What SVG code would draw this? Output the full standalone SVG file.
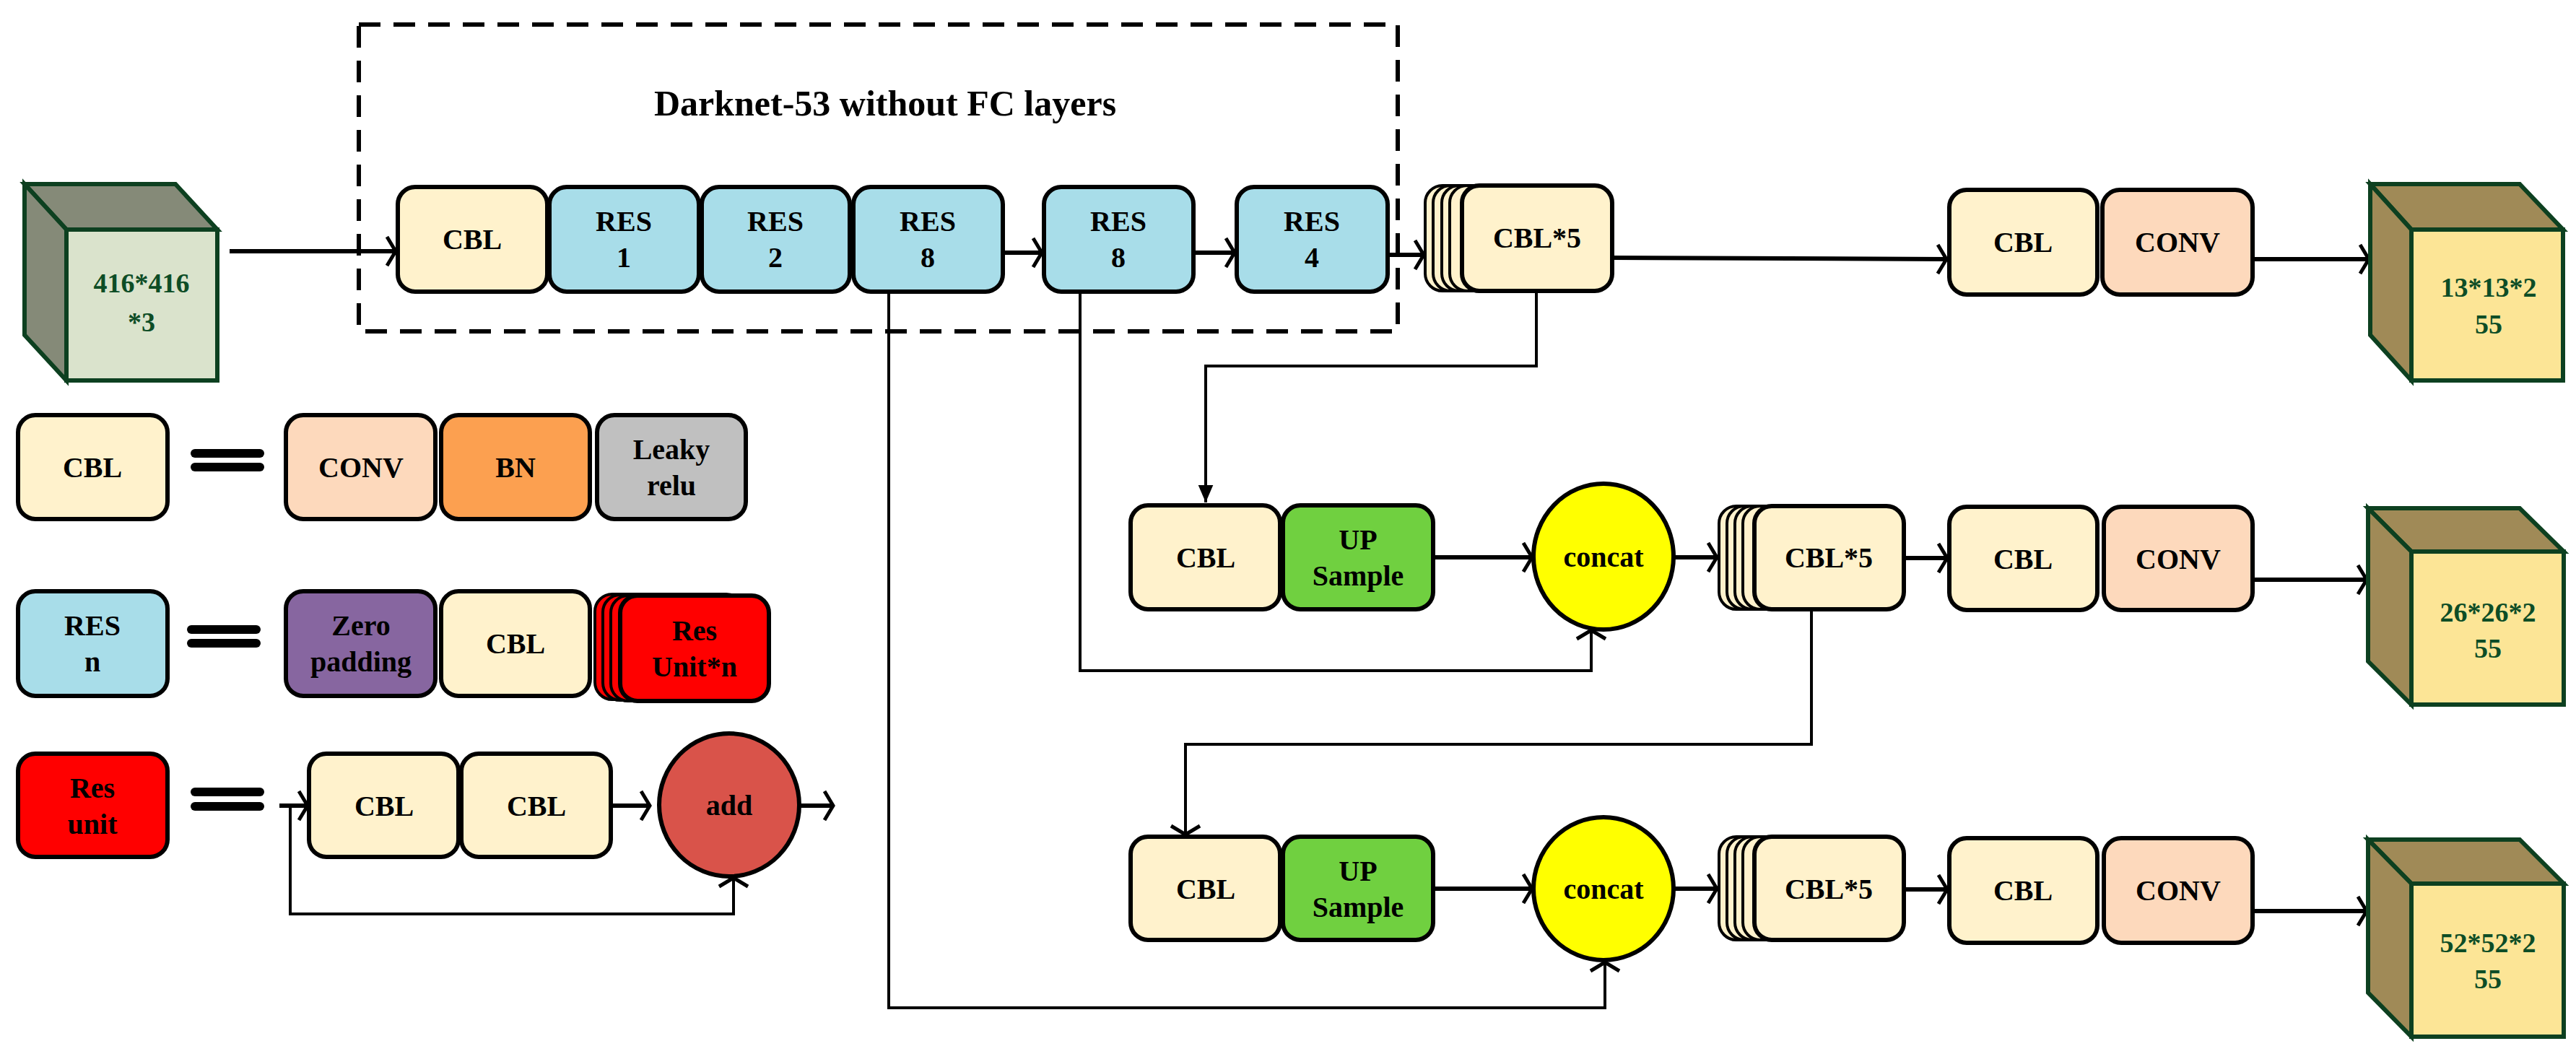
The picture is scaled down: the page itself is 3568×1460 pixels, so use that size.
<svg xmlns="http://www.w3.org/2000/svg" width="3568" height="1460" viewBox="0 0 3568 1460">
<defs>
<style>
.b{stroke:#000;stroke-width:6}
.t{font-family:"Liberation Serif",serif;font-size:40px;font-weight:bold;text-anchor:middle;dominant-baseline:central;fill:#000}
.ct{font-family:"Liberation Serif",serif;font-size:38px;font-weight:bold;text-anchor:middle;dominant-baseline:central;fill:#0d4d26}
.cbl{fill:#fff2cc}.res{fill:#a8dde9}.conv{fill:#fdd9bc}.up{fill:#70d040}
.cf{stroke:#0d4020;stroke-width:6}
.ln{fill:none;stroke:#000;stroke-width:6}
.lt{fill:none;stroke:#000;stroke-width:4}
.eq{stroke:#000;stroke-width:12;stroke-linecap:round}
</style>
<marker id="a" markerUnits="userSpaceOnUse" markerWidth="30" markerHeight="50" viewBox="-20 -25 30 50" refX="0" refY="0" orient="auto">
<path d="M-12,-20 L0,0 L-12,20" fill="none" stroke="#000" stroke-width="5"/>
</marker>
<marker id="f" markerUnits="userSpaceOnUse" markerWidth="30" markerHeight="50" viewBox="-30 -25 35 50" refX="0" refY="0" orient="auto">
<path d="M-28,-12 L0,0 L-28,12 Z" fill="#000"/>
</marker>
</defs>
<rect width="3568" height="1460" fill="#fff"/>

<g id="backbone-frame">
<rect x="497" y="34" width="1439" height="425" fill="none" stroke="#000" stroke-width="6" stroke-dasharray="30,18"/>
<text x="1226" y="143" font-family="Liberation Serif,serif" font-size="50" font-weight="bold" text-anchor="middle" dominant-baseline="central">Darknet-53 without FC layers</text>
</g>

<g id="input">
<polygon points="34,255 243,255 301,318 92,318" fill="#858a78" class="cf"/>
<polygon points="34,255 92,318 92,527 34,464" fill="#858a78" class="cf"/>
<rect x="92" y="318" width="209" height="209" fill="#dae3cc" class="cf"/>
<text class="ct" x="196" y="392">416*416</text><text class="ct" x="196" y="446">*3</text>
</g>

<g id="connectors">
<line class="ln" x1="318" y1="348" x2="548" y2="348" marker-end="url(#a)"/>
<line class="ln" x1="1389" y1="350" x2="1443" y2="350" marker-end="url(#a)"/>
<line class="ln" x1="1653" y1="350" x2="1710" y2="350" marker-end="url(#a)"/>
<line class="ln" x1="1922" y1="353" x2="1972" y2="353" marker-end="url(#a)"/>
<line class="ln" x1="2233" y1="357" x2="2696" y2="359" marker-end="url(#a)"/>
<line class="ln" x1="3120" y1="359" x2="3281" y2="359" marker-end="url(#a)"/>
<polyline class="lt" points="2128,403 2128,507 1670,507 1670,696" marker-end="url(#f)"/>
<line class="ln" x1="1985" y1="772" x2="2122" y2="772" marker-end="url(#a)"/>
<line class="ln" x1="2318" y1="772" x2="2378" y2="772" marker-end="url(#a)"/>
<line class="ln" x1="2637" y1="773" x2="2697" y2="773" marker-end="url(#a)"/>
<line class="ln" x1="3122" y1="803" x2="3278" y2="803" marker-end="url(#a)"/>
<polyline class="lt" points="1496,404 1496,929 2204,929 2204,873" marker-end="url(#a)"/>
<polyline class="lt" points="2509,844 2509,1031 1642,1031 1642,1156" marker-end="url(#a)"/>
<line class="ln" x1="1985" y1="1231" x2="2122" y2="1231" marker-end="url(#a)"/>
<line class="ln" x1="2318" y1="1231" x2="2378" y2="1231" marker-end="url(#a)"/>
<line class="ln" x1="2637" y1="1232" x2="2697" y2="1232" marker-end="url(#a)"/>
<line class="ln" x1="3122" y1="1262" x2="3278" y2="1262" marker-end="url(#a)"/>
<polyline class="lt" points="1231,404 1231,1396 2223,1396 2223,1333" marker-end="url(#a)"/>
<line class="ln" x1="387" y1="1116" x2="426" y2="1116" marker-end="url(#a)"/>
<polyline class="lt" points="402,1116 402,1266 1016,1266 1016,1216" marker-end="url(#a)"/>
<line class="ln" x1="846" y1="1116" x2="900" y2="1116" marker-end="url(#a)"/>
<line class="ln" x1="1108" y1="1116" x2="1154" y2="1116" marker-end="url(#a)"/>
</g>

<g id="main-row">
<rect class="b cbl" x="551" y="259" width="207" height="145" rx="24"/><text class="t" x="654" y="331">CBL</text>
<rect class="b res" x="761" y="259" width="207" height="145" rx="24"/><text class="t" x="864" y="306">RES</text><text class="t" x="864" y="356">1</text>
<rect class="b res" x="972" y="259" width="205" height="145" rx="24"/><text class="t" x="1074" y="306">RES</text><text class="t" x="1074" y="356">2</text>
<rect class="b res" x="1182" y="259" width="207" height="145" rx="24"/><text class="t" x="1285" y="306">RES</text><text class="t" x="1285" y="356">8</text>
<rect class="b res" x="1446" y="259" width="207" height="145" rx="24"/><text class="t" x="1549" y="306">RES</text><text class="t" x="1549" y="356">8</text>
<rect class="b res" x="1713" y="259" width="209" height="145" rx="24"/><text class="t" x="1817" y="306">RES</text><text class="t" x="1817" y="356">4</text>
</g>

<g id="cbl5-1">
<rect class="cbl" stroke="#000" stroke-width="4" x="1974" y="257" width="208" height="146" rx="24"/>
<rect class="cbl" stroke="#000" stroke-width="4" x="1985" y="257" width="208" height="146" rx="24"/>
<rect class="cbl" stroke="#000" stroke-width="4" x="1997" y="257" width="208" height="146" rx="24"/>
<rect class="cbl" stroke="#000" stroke-width="4" x="2008" y="257" width="208" height="146" rx="24"/>
<rect class="b cbl" x="2025" y="257" width="208" height="146" rx="24"/><text class="t" x="2129" y="329">CBL*5</text>
</g>
<g id="head1">
<rect class="b cbl" x="2700" y="263" width="205" height="145" rx="24"/><text class="t" x="2802" y="335">CBL</text>
<rect class="b conv" x="2912" y="263" width="208" height="145" rx="24"/><text class="t" x="3016" y="335">CONV</text>
</g>
<g id="out1">
<polygon points="3283,255 3490,255 3550,318 3340,318" fill="#a08a57" class="cf"/>
<polygon points="3283,255 3340,318 3340,527 3283,464" fill="#a08a57" class="cf"/>
<rect x="3340" y="318" width="210" height="209" fill="#fce596" class="cf"/>
<text class="ct" x="3447" y="398">13*13*2</text><text class="ct" x="3447" y="449">55</text>
</g>

<g id="row2">
<rect class="b cbl" x="1566" y="700" width="207" height="144" rx="24"/><text class="t" x="1670" y="772">CBL</text>
<rect class="b up" x="1777" y="700" width="208" height="144" rx="24"/><text class="t" x="1881" y="747">UP</text><text class="t" x="1881" y="797">Sample</text>
<ellipse class="b" fill="#ffff00" cx="2221" cy="771" rx="97" ry="101"/><text class="t" x="2221" y="771">concat</text>
<rect class="cbl" stroke="#000" stroke-width="4" x="2381" y="701" width="207" height="143" rx="24"/>
<rect class="cbl" stroke="#000" stroke-width="4" x="2392" y="701" width="207" height="143" rx="24"/>
<rect class="cbl" stroke="#000" stroke-width="4" x="2403" y="701" width="207" height="143" rx="24"/>
<rect class="cbl" stroke="#000" stroke-width="4" x="2414" y="701" width="207" height="143" rx="24"/>
<rect class="b cbl" x="2430" y="701" width="207" height="143" rx="24"/><text class="t" x="2533" y="772">CBL*5</text>
<rect class="b cbl" x="2700" y="702" width="205" height="143" rx="24"/><text class="t" x="2802" y="774">CBL</text>
<rect class="b conv" x="2914" y="702" width="206" height="143" rx="24"/><text class="t" x="3017" y="774">CONV</text>
</g>
<g id="out2">
<polygon points="3280,704 3490,704 3551,764 3340,764" fill="#a08a57" class="cf"/>
<polygon points="3280,704 3340,764 3340,976 3280,916" fill="#a08a57" class="cf"/>
<rect x="3340" y="764" width="211" height="212" fill="#fce596" class="cf"/>
<text class="ct" x="3446" y="848">26*26*2</text><text class="ct" x="3446" y="898">55</text>
</g>

<g id="row3">
<rect class="b cbl" x="1566" y="1159" width="207" height="143" rx="24"/><text class="t" x="1670" y="1231">CBL</text>
<rect class="b up" x="1777" y="1159" width="208" height="143" rx="24"/><text class="t" x="1881" y="1206">UP</text><text class="t" x="1881" y="1256">Sample</text>
<ellipse class="b" fill="#ffff00" cx="2221" cy="1231" rx="97" ry="99"/><text class="t" x="2221" y="1231">concat</text>
<rect class="cbl" stroke="#000" stroke-width="4" x="2381" y="1159" width="207" height="143" rx="24"/>
<rect class="cbl" stroke="#000" stroke-width="4" x="2392" y="1159" width="207" height="143" rx="24"/>
<rect class="cbl" stroke="#000" stroke-width="4" x="2403" y="1159" width="207" height="143" rx="24"/>
<rect class="cbl" stroke="#000" stroke-width="4" x="2414" y="1159" width="207" height="143" rx="24"/>
<rect class="b cbl" x="2430" y="1159" width="207" height="143" rx="24"/><text class="t" x="2533" y="1231">CBL*5</text>
<rect class="b cbl" x="2700" y="1161" width="205" height="145" rx="24"/><text class="t" x="2802" y="1233">CBL</text>
<rect class="b conv" x="2914" y="1161" width="206" height="145" rx="24"/><text class="t" x="3017" y="1233">CONV</text>
</g>
<g id="out3">
<polygon points="3280,1163 3490,1163 3551,1224 3340,1224" fill="#a08a57" class="cf"/>
<polygon points="3280,1163 3340,1224 3340,1436 3280,1375" fill="#a08a57" class="cf"/>
<rect x="3340" y="1224" width="211" height="212" fill="#fce596" class="cf"/>
<text class="ct" x="3446" y="1306">52*52*2</text><text class="ct" x="3446" y="1356">55</text>
</g>

<g id="legend-cbl">
<rect class="b cbl" x="25" y="575" width="207" height="144" rx="24"/><text class="t" x="128" y="647">CBL</text>
<line class="eq" x1="270" y1="628" x2="360" y2="628"/><line class="eq" x1="270" y1="647" x2="360" y2="647"/>
<rect class="b conv" x="396" y="575" width="207" height="144" rx="24"/><text class="t" x="500" y="647">CONV</text>
<rect class="b" fill="#fca050" x="611" y="575" width="206" height="144" rx="24"/><text class="t" x="714" y="647">BN</text>
<rect class="b" fill="#c0c0c0" x="827" y="575" width="206" height="144" rx="24"/><text class="t" x="930" y="622">Leaky</text><text class="t" x="930" y="672">relu</text>
</g>
<g id="legend-res">
<rect class="b res" x="25" y="819" width="207" height="145" rx="24"/><text class="t" x="128" y="866">RES</text><text class="t" x="128" y="916">n</text>
<line class="eq" x1="265" y1="872" x2="355" y2="872"/><line class="eq" x1="265" y1="891" x2="355" y2="891"/>
<rect class="b" fill="#8766a0" x="396" y="819" width="207" height="145" rx="24"/><text class="t" x="500" y="866">Zero</text><text class="t" x="500" y="916">padding</text>
<rect class="b cbl" x="611" y="819" width="206" height="145" rx="24"/><text class="t" x="714" y="891">CBL</text>
<rect fill="#ff0000" stroke="#000" stroke-width="4" x="824" y="823" width="206" height="146" rx="24"/>
<rect fill="#ff0000" stroke="#000" stroke-width="4" x="835" y="824" width="206" height="146" rx="24"/>
<rect fill="#ff0000" stroke="#000" stroke-width="4" x="846" y="825" width="206" height="146" rx="24"/>
<rect class="b" fill="#ff0000" x="859" y="825" width="206" height="146" rx="24"/><text class="t" x="962" y="873">Res</text><text class="t" x="962" y="923">Unit*n</text>
</g>
<g id="legend-resunit">
<rect class="b" fill="#ff0000" x="25" y="1044" width="207" height="143" rx="24"/><text class="t" x="128" y="1091">Res</text><text class="t" x="128" y="1141">unit</text>
<line class="eq" x1="270" y1="1097" x2="360" y2="1097"/><line class="eq" x1="270" y1="1117" x2="360" y2="1117"/>
<rect class="b cbl" x="428" y="1044" width="207" height="143" rx="24"/><text class="t" x="532" y="1116">CBL</text>
<rect class="b cbl" x="639" y="1044" width="207" height="143" rx="24"/><text class="t" x="743" y="1116">CBL</text>
<ellipse class="b" fill="#d9534a" cx="1010" cy="1115" rx="97" ry="99"/><text class="t" x="1010" y="1115">add</text>
</g>
</svg>
